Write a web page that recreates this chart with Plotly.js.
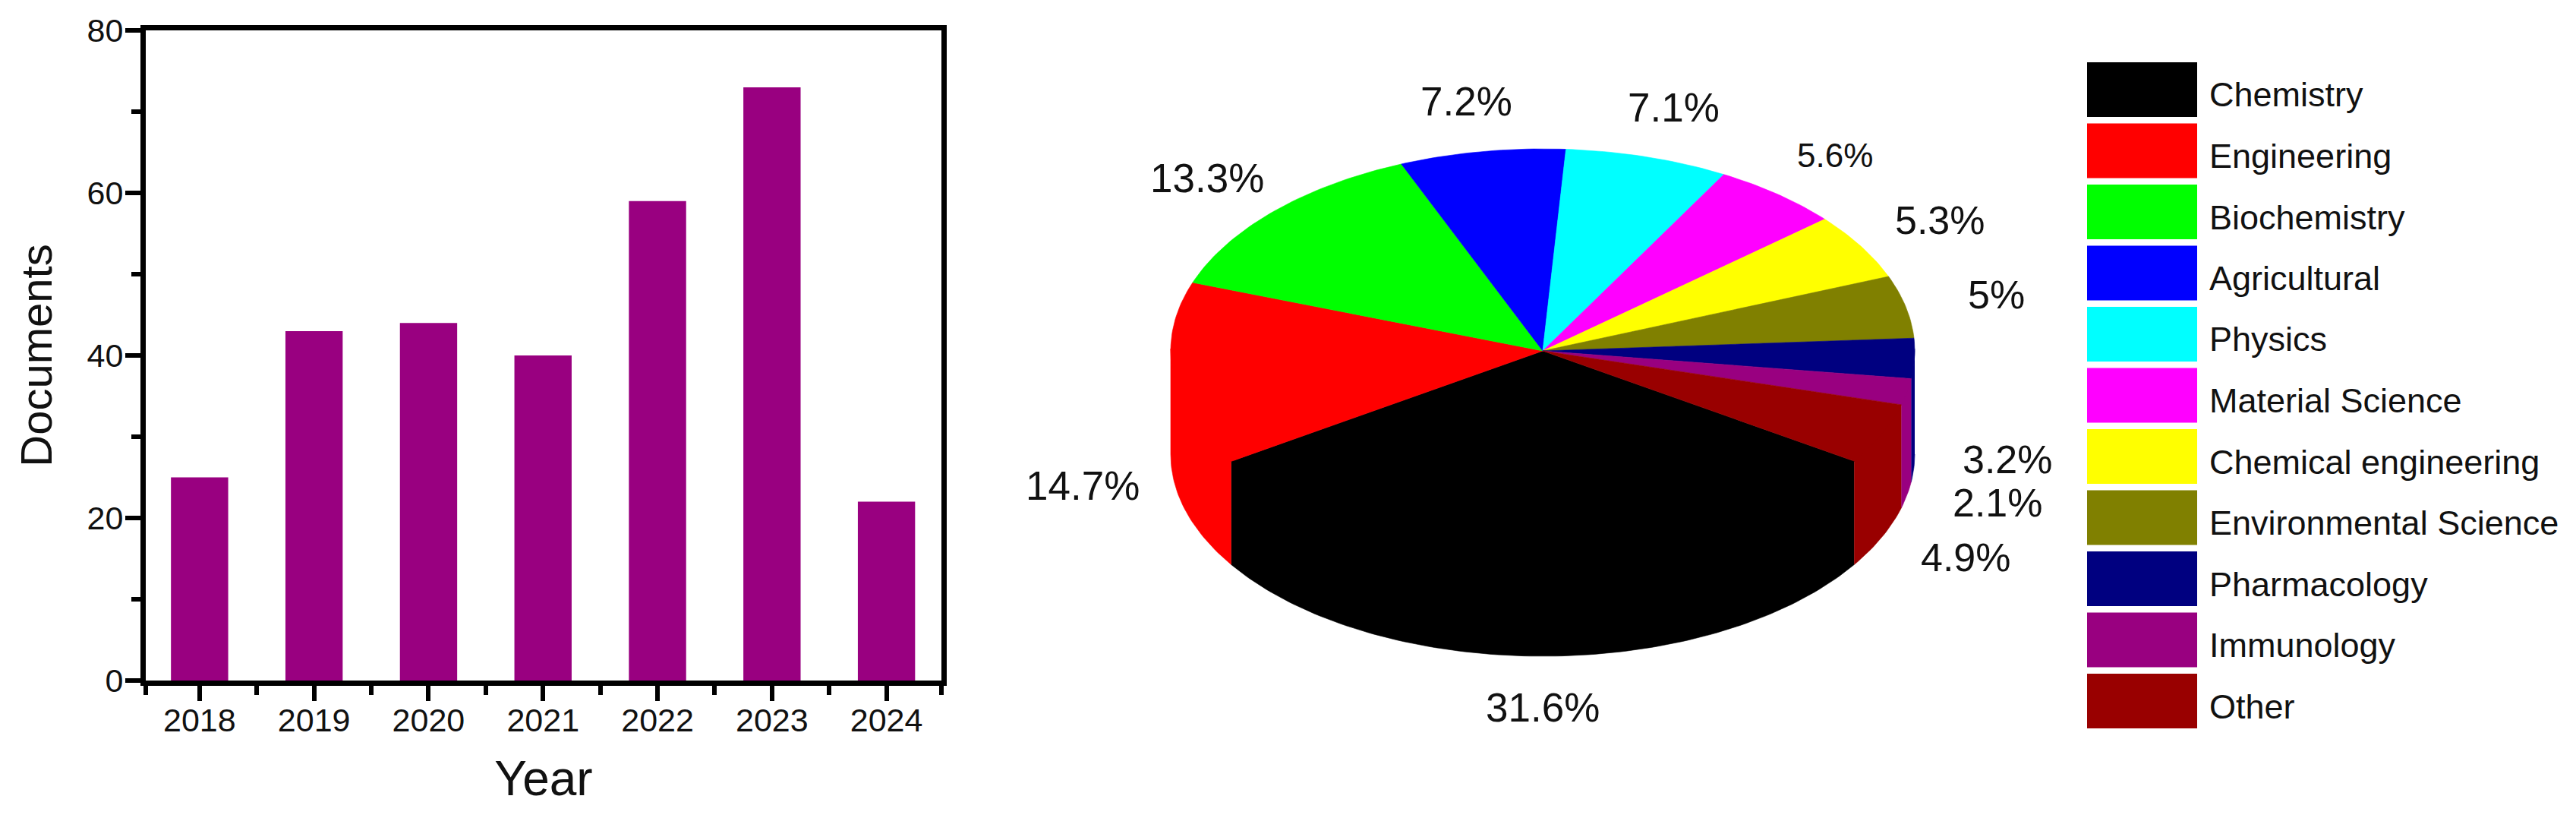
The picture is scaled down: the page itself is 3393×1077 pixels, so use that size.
<!DOCTYPE html>
<html>
<head>
<meta charset="utf-8">
<script src="https://cdn.plot.ly/plotly-3.0.1.min.js"></script>
<style>html,body{margin:0;padding:0;background:#fff}#chart{width:3393px;height:1077px}</style>
</head>
<body>
<div id="chart"></div>
<script>
// --- data ---
const years = [2018, 2019, 2020, 2021, 2022, 2023, 2024];
const documents = [25, 43, 44, 40, 59, 73, 22];
const subjects = ["Chemistry", "Engineering", "Biochemistry", "Agricultural", "Physics", "Material Science",
  "Chemical engineering", "Environmental Science", "Pharmacology", "Immunology", "Other"];
const shares = [31.6, 14.7, 13.3, 7.2, 7.1, 5.6, 5.3, 5, 3.2, 2.1, 4.9];
const subjectColors = ["#000000", "#ff0000", "#00ff00", "#0000ff", "#00ffff", "#ff00ff",
  "#ffff00", "#808000", "#000080", "#990080", "#990000"];

// --- layout constants ---
const W = 3393, H = 1077;
const FONT = "Liberation Sans, Arial, sans-serif";
const barColor = "#990080";
const cx = 2032, cy = 462, rx = 490, ry = 266, depth = 136, startAngle = 33.1;
const pad = 20;
// label centres and sizes, in page pixels, same order as subjects
const labelX = [2032, 1426, 1590, 1931, 2204, 2417, 2555, 2629, 2644, 2631, 2589];
const labelY = [931, 639, 234, 134, 142, 204, 290, 388, 605, 662, 734];
const labelSize = [53, 53, 53, 53, 53, 44, 52, 52, 52, 52, 52];
const legendLeft = 2749, legendTop = 82, legendPitch = 80.5, swatchW = 145, swatchH = 72, legendTextX = 2908;
const xRange = [2017.53, 2024.48];

const px = x => x / W, py = y => 1 - y / H;
const rad = d => d * Math.PI / 180;

function arc(a0, a1, dy) {
  const xs = [], ys = [], n = Math.max(2, Math.ceil(Math.abs(a1 - a0)));
  for (let i = 0; i <= n; i++) {
    const a = rad(a0 + (a1 - a0) * i / n);
    xs.push(rx * Math.cos(a));
    ys.push(-ry * Math.sin(a) - dy);
  }
  return [xs, ys];
}

const wallTraces = [], topTraces = [];
let angle = startAngle;
subjects.forEach((name, i) => {
  const a0 = angle, a1 = angle + shares[i] * 3.6;
  angle = a1;
  const base = {type: "scatter", mode: "lines", fill: "toself", fillcolor: subjectColors[i], xaxis: "x2", yaxis: "y2",
    line: {color: subjectColors[i], width: 0.6}, name: name, showlegend: false, hoverinfo: "name"};
  // side walls: only the part of the rim on the near half of the ellipse.
  // The upper edge is tucked slightly under the top face so no seam shows.
  [[0, 180], [360, 540]].forEach(([lo, hi]) => {
    const s = Math.max(a0, lo), e = Math.min(a1, hi);
    if (e > s) {
      const [tx, ty] = arc(s, e, -3), [bx, by] = arc(e, s, depth);
      wallTraces.push(Object.assign({}, base, {x: tx.concat(bx), y: ty.concat(by)}));
    }
  });
  const [ax, ay] = arc(a0, a1, 0);
  topTraces.push(Object.assign({}, base, {x: [0].concat(ax, [0]), y: [0].concat(ay, [0])}));
});

const barTrace = {type: "bar", x: years, y: documents, width: 0.5, marker: {color: barColor}, showlegend: false, xaxis: "x", yaxis: "y"};

const minorX = years.map(y => y - 0.5).concat([years[years.length - 1] + 0.5])
  .map(v => Math.min(xRange[1], Math.max(xRange[0], v)));

const shapes = subjects.map((s, i) => ({
  type: "rect", xref: "paper", yref: "paper", layer: "below", line: {width: 0},
  x0: px(legendLeft), x1: px(legendLeft + swatchW),
  y0: py(legendTop + i * legendPitch), y1: py(legendTop + i * legendPitch + swatchH),
  fillcolor: subjectColors[i]
}));

const annotations = [];
subjects.forEach((s, i) => {
  annotations.push({xref: "paper", yref: "paper", x: px(legendTextX), y: py(legendTop + i * legendPitch + swatchH / 2 + 7),
    xanchor: "left", yanchor: "middle", showarrow: false, text: s, font: {family: FONT, size: 45, color: "#111"}});
  annotations.push({xref: "paper", yref: "paper", x: px(labelX[i]), y: py(labelY[i]),
    xanchor: "center", yanchor: "middle", showarrow: false, text: shares[i] + "%", font: {family: FONT, size: labelSize[i], color: "#111"}});
});

const layout = {
  width: W, height: H, margin: {l: 0, r: 0, t: 0, b: 0}, paper_bgcolor: "#fff", plot_bgcolor: "rgba(0,0,0,0)",
  showlegend: false, font: {family: FONT, color: "#111"},
  xaxis: {domain: [px(192), px(1240)], range: xRange, tickmode: "array", tickvals: years, ticktext: years.map(String),
    showline: true, linecolor: "#000", linewidth: 7, mirror: true, ticks: "outside", ticklen: 20, tickwidth: 6, tickcolor: "#000",
    tickfont: {family: FONT, size: 43, color: "#111"}, showgrid: false, zeroline: false, automargin: false, ticklabelstandoff: -12,
    minor: {tickmode: "array", tickvals: minorX, ticks: "outside", ticklen: 12, tickwidth: 6, tickcolor: "#000", showgrid: false},
    title: {text: "Year", font: {family: FONT, size: 64, color: "#111"}, standoff: 34}},
  yaxis: {domain: [py(896), py(40)], range: [0, 80], tickmode: "linear", tick0: 0, dtick: 20,
    showline: true, linecolor: "#000", linewidth: 7, mirror: true, ticks: "outside", ticklen: 20, tickwidth: 6, tickcolor: "#000",
    tickfont: {family: FONT, size: 43, color: "#111"}, showgrid: false, zeroline: false, automargin: false, ticklabelstandoff: -6,
    minor: {dtick: 10, tick0: 0, ticks: "outside", ticklen: 12, tickwidth: 6, tickcolor: "#000", showgrid: false},
    title: {text: "Documents", font: {family: FONT, size: 58, color: "#111"}, standoff: 30}},
  xaxis2: {domain: [px(cx - rx - pad), px(cx + rx + pad)], range: [-(rx + pad), rx + pad], visible: false, fixedrange: true, anchor: "y2"},
  yaxis2: {domain: [py(cy + ry + depth + pad), py(cy - ry - pad)], range: [-(ry + depth + pad), ry + pad], visible: false, fixedrange: true, anchor: "x2"},
  shapes: shapes, annotations: annotations
};

Plotly.newPlot("chart", [barTrace].concat(wallTraces, topTraces), layout, {displayModeBar: false, responsive: false});
</script>
</body>
</html>
